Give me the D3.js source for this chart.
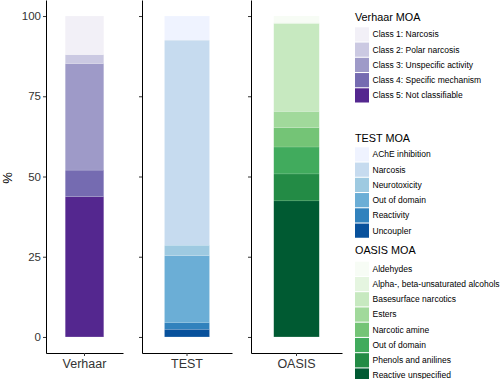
<!DOCTYPE html>
<html>
<head>
<meta charset="utf-8">
<script src="https://cdn.jsdelivr.net/npm/d3@7"></script>
<style>
  body { margin: 0; background: #fff; }
  text { font-family: "Liberation Sans", Arial, sans-serif; }
</style>
</head>
<body>
<div id="chart"></div>
<script>
// data (% of chemicals per class, bottom to top is the reverse of these lists)
const verhaarClasses = ["Class 1: Narcosis", "Class 2: Polar narcosis", "Class 3: Unspecific activity",
    "Class 4: Specific mechanism", "Class 5: Not classifiable"];
const verhaarValues = [12.0, 2.8, 33.2, 8.3, 43.7];

const testClasses = ["AChE inhibition", "Narcosis", "Neurotoxicity", "Out of domain", "Reactivity", "Uncoupler"];
const testValues = [7.5, 63.9, 3.3, 20.9, 2.0, 2.4];

const oasisClasses = ["Aldehydes", "Alpha-, beta-unsaturated alcohols", "Basesurface narcotics", "Esters",
    "Narcotic amine", "Out of domain", "Phenols and anilines", "Reactive unspecified"];
const oasisValues = [2.0, 0.3, 27.4, 5.1, 6.0, 8.4, 8.4, 42.4];

const panelNames = ["Verhaar", "TEST", "OASIS"];
const legendTitles = ["Verhaar MOA", "TEST MOA", "OASIS MOA"];
const yTicks = [0, 25, 50, 75, 100];

const purples = ["#f2f0f7", "#cbc9e2", "#9e9ac8", "#756bb1", "#54278f"];
const blues = ["#eff3ff", "#c6dbef", "#9ecae1", "#6baed6", "#3182bd", "#08519c"];
const greens = ["#f7fcf5", "#e5f5e0", "#c7e9c0", "#a1d99b", "#74c476", "#41ab5d", "#238b45", "#005a32"];

const W = 500, H = 379;
const svg = d3.select("#chart").append("svg")
    .attr("width", W)
    .attr("height", H);

// shared y scale, ggplot-style 5% expansion
const y = d3.scaleLinear().domain([-5, 105]).range([353, 0]);

const panels = [
    { name: panelNames[0], x0: 46, x1: 123, classes: verhaarClasses, values: verhaarValues, colors: purples, labels: true },
    { name: panelNames[1], x0: 142, x1: 232, classes: testClasses, values: testValues, colors: blues, labels: false },
    { name: panelNames[2], x0: 251, x1: 342, classes: oasisClasses, values: oasisValues, colors: greens, labels: false }
];

panels.forEach(function (p) {
    const x = d3.scaleBand().domain([p.name]).range([p.x0, p.x1]).paddingInner(0).paddingOuter(0.5);
    const color = d3.scaleOrdinal().domain(p.classes).range(p.colors);

    // stack: last class at bottom
    const segs = [];
    let acc = 0;
    for (let i = p.classes.length - 1; i >= 0; i--) {
        segs.push({ cls: p.classes[i], y0: acc, y1: acc + p.values[i] });
        acc += p.values[i];
    }

    const g = svg.append("g");
    g.selectAll("rect")
        .data(segs)
        .enter().append("rect")
        .attr("x", x(p.name))
        .attr("width", x.bandwidth())
        .attr("y", d => y(d.y1))
        .attr("height", d => y(d.y0) - y(d.y1))
        .attr("fill", d => color(d.cls))
        .attr("stroke", "#fff")
        .attr("stroke-opacity", 0.4)
        .attr("stroke-width", 0.3);

    // y axis
    const ya = svg.append("g")
        .attr("transform", "translate(" + p.x0 + ",0)")
        .call(d3.axisLeft(y).tickValues(yTicks).tickSize(3).tickSizeOuter(0).tickPadding(2));
    ya.select(".domain").attr("stroke", "#000").attr("stroke-width", 1);
    ya.selectAll(".tick line").attr("stroke", "#333");
    ya.selectAll(".tick text")
        .style("font-size", "11.5px")
        .attr("fill", "#333")
        .text(d => p.labels ? d : "");

    // x axis
    const xa = svg.append("g")
        .attr("transform", "translate(0,353)")
        .call(d3.axisBottom(x).tickSize(3).tickSizeOuter(0).tickPadding(3));
    xa.select(".domain").attr("stroke", "#000").attr("stroke-width", 1);
    xa.selectAll(".tick line").attr("stroke", "#333");
    xa.selectAll(".tick text")
        .style("font-size", "12.5px")
        .attr("fill", "#333");
});

// y axis title
svg.append("text")
    .attr("transform", "translate(12,178) rotate(-90)")
    .attr("text-anchor", "middle")
    .style("font-size", "13px")
    .attr("fill", "#000")
    .text("%");

// legends
const legendTops = [27.3, 147.3, 261.7];
const titleBase = [21, 141.5, 254];
const keyStep = 15.25;

panels.forEach(function (p, k) {
    const lg = svg.append("g").attr("transform", "translate(355,0)");
    lg.append("text")
        .attr("x", 0)
        .attr("y", titleBase[k])
        .style("font-size", "10.8px")
        .attr("fill", "#000")
        .text(legendTitles[k]);

    const items = lg.selectAll(".item")
        .data(p.classes)
        .enter().append("g")
        .attr("class", "item")
        .attr("transform", (d, i) => "translate(0," + (legendTops[k] + i * keyStep) + ")");

    items.append("rect")
        .attr("width", 14)
        .attr("height", 14.2)
        .attr("fill", (d, i) => p.colors[i]);

    items.append("text")
        .attr("x", 17.5)
        .attr("y", 10)
        .style("font-size", "8.5px")
        .attr("fill", "#000")
        .text(d => d);
});
</script>
</body>
</html>
